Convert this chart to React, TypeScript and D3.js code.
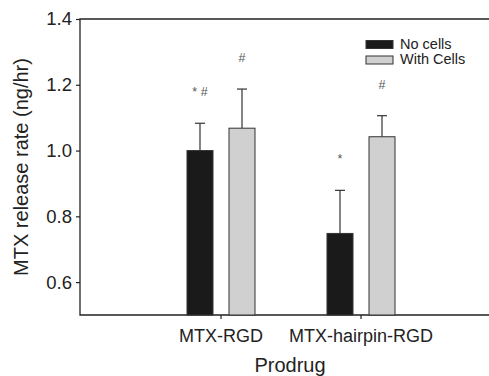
import React, { useEffect, useRef } from "react";
import * as d3 from "d3";

const categories = ["MTX-RGD", "MTX-hairpin-RGD"];
const seriesNames = ["No cells", "With Cells"];
const noCells = [1.0, 0.748];
const withCells = [1.068, 1.042];
const noCellsErr = [0.083, 0.131];
const withCellsErr = [0.119, 0.064];
const noCellsMarks = ["* #", "*"];
const withCellsMarks = ["#", "#"];
const yTicks = [0.6, 0.8, 1.0, 1.2, 1.4];

const W = 489;
const H = 376;
const FONT = "'Liberation Sans', Arial, Helvetica, sans-serif";

export default function App() {
  const ref = useRef<SVGSVGElement | null>(null);

  useEffect(() => {
    const svg = d3.select(ref.current);
    svg.selectAll("*").remove();

    const left = 80, top = 19, bottom = 315, right = 490;
    const y = d3.scaleLinear().domain([0.5, 1.4]).range([bottom, top]);
    const x = d3.scaleBand<string>().domain(categories).range([151, 431]);
    const xs = d3
      .scaleBand<string>()
      .domain(seriesNames)
      .range([0, x.bandwidth()])
      .paddingInner(0.381)
      .paddingOuter(0.857);

    const colors = ["#1a1a1a", "#d0d0d0"];
    const values = [noCells, withCells];
    const errs = [noCellsErr, withCellsErr];
    const marks = [noCellsMarks, withCellsMarks];

    svg.append("path")
      .attr("d", `M${right},${top}H${left}V${bottom}H${right}`)
      .attr("fill", "none")
      .attr("stroke", "#222")
      .attr("stroke-width", 1.3);

    const yAxis = svg.append("g").attr("transform", `translate(${left},0)`)
      .call(d3.axisLeft(y).tickValues(yTicks).tickFormat(d3.format(".1f")).tickSize(4).tickPadding(4));
    yAxis.select(".domain").remove();
    yAxis.selectAll("line").attr("stroke", "#222").attr("stroke-width", 1.2);
    yAxis.selectAll("text").attr("font-family", FONT).attr("font-size", 18.5).attr("fill", "#222");

    const xAxis = svg.append("g").attr("transform", `translate(0,${bottom})`)
      .call(d3.axisBottom(x).tickSize(4).tickPadding(10));
    xAxis.select(".domain").remove();
    xAxis.selectAll("line").attr("stroke", "#222").attr("stroke-width", 1.2);
    xAxis.selectAll("text").attr("font-family", FONT).attr("font-size", 18).attr("fill", "#222");

    seriesNames.forEach((s, si) => {
      categories.forEach((c, ci) => {
        const v = values[si][ci];
        const e = errs[si][ci];
        const x0 = (x(c) as number) + (xs(s) as number);
        const bw = xs.bandwidth();
        const cx = x0 + bw / 2;
        svg.append("line")
          .attr("x1", cx).attr("x2", cx)
          .attr("y1", y(v)).attr("y2", y(v + e))
          .attr("stroke", "#333").attr("stroke-width", 1.2);
        svg.append("line")
          .attr("x1", cx - 5).attr("x2", cx + 5)
          .attr("y1", y(v + e)).attr("y2", y(v + e))
          .attr("stroke", "#333").attr("stroke-width", 1.2);
        svg.append("rect")
          .attr("x", x0).attr("y", y(v))
          .attr("width", bw).attr("height", bottom - y(v))
          .attr("fill", colors[si])
          .attr("stroke", "#333").attr("stroke-width", 1);
        svg.append("text")
          .attr("x", cx).attr("y", y(v + e) - 27)
          .attr("text-anchor", "middle")
          .attr("font-family", FONT).attr("font-size", 12.5)
          .attr("fill", "#555")
          .text(marks[si][ci]);
      });
    });

    seriesNames.forEach((s, i) => {
      svg.append("rect")
        .attr("x", 366).attr("y", 40.5 + i * 15.5)
        .attr("width", 27).attr("height", 8)
        .attr("fill", colors[i]).attr("stroke", "#333").attr("stroke-width", 1);
      svg.append("text")
        .attr("x", 400).attr("y", 48.5 + i * 15)
        .attr("font-family", FONT).attr("font-size", 14.5).attr("fill", "#222")
        .text(s);
    });

    svg.append("text")
      .attr("transform", `translate(28,${(top + bottom) / 2}) rotate(-90)`)
      .attr("text-anchor", "middle")
      .attr("font-family", FONT).attr("font-size", 20).attr("fill", "#222")
      .text("MTX release rate (ng/hr)");
    svg.append("text")
      .attr("x", 290).attr("y", 372)
      .attr("text-anchor", "middle")
      .attr("font-family", FONT).attr("font-size", 20).attr("fill", "#222")
      .text("Prodrug");
  }, []);

  return (
    <svg
      ref={ref}
      width={W}
      height={H}
      style={{ position: "absolute", left: 0, top: 0, background: "#fff" }}
    />
  );
}
